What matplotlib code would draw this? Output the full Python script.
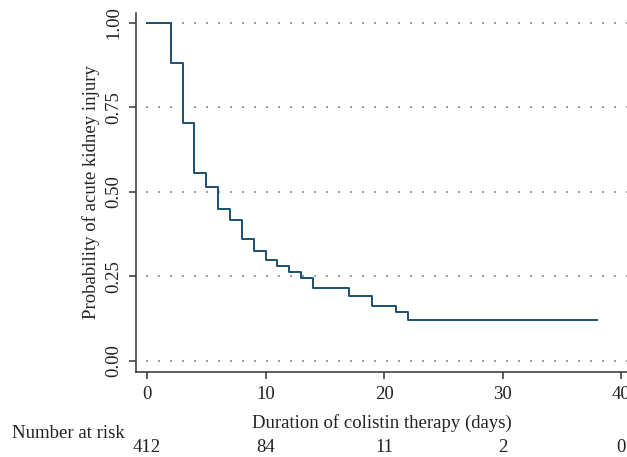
import matplotlib
matplotlib.use("Agg")
import matplotlib.pyplot as plt
import matplotlib.transforms as mtransforms

plt.rcParams['font.family'] = ['Liberation Serif', 'DejaVu Serif']

# Kaplan-Meier step data (days, probability)
days = [0, 2, 3, 4, 5, 6, 7, 8, 9, 10, 11, 12, 13, 14, 17, 19, 21, 22, 38]
prob = [1.00, 0.882, 0.705, 0.556, 0.513, 0.448, 0.418, 0.361, 0.326, 0.299,
        0.281, 0.264, 0.246, 0.217, 0.192, 0.163, 0.146, 0.122, 0.122]

x_ticks = [0, 10, 20, 30, 40]
y_ticks = [0.00, 0.25, 0.50, 0.75, 1.00]
y_tick_labels = ["0.00", "0.25", "0.50", "0.75", "1.00"]
risk_times = [0, 10, 20, 30, 40]
risk_counts = ["412", "84", "11", "2", "0"]

FS = 13.5
TXT = '#222222'

fig = plt.figure(figsize=(6.27, 4.57), dpi=100)
ax = fig.add_axes([0.217, 0.186, 0.783, 0.786])

ax.step(days, prob, where='post', color='#1b4f72', lw=1.4)

ax.set_xlim(-0.93, 40.5)
ax.set_ylim(-0.033, 1.03)
ax.set_xticks(x_ticks)
ax.set_yticks(y_ticks)
ax.set_yticklabels(y_tick_labels, rotation=90, va='center')

for y in y_ticks:
    ax.axhline(y, xmin=0.02, color='#8a8a8a', lw=1.2, ls=(0, (1.2, 6.0)), zorder=0)

for s in ['top', 'right']:
    ax.spines[s].set_visible(False)
for s in ['left', 'bottom']:
    ax.spines[s].set_color('#333333')
    ax.spines[s].set_linewidth(1.1)
ax.tick_params(axis='both', direction='out', length=5, width=1.1, color='#333333',
               labelsize=FS, labelcolor=TXT)
ax.tick_params(axis='x', pad=5)
ax.tick_params(axis='y', pad=5)

ax.set_xlabel("Duration of colistin therapy (days)", fontsize=FS, color=TXT, labelpad=8)
ax.set_ylabel("Probability of acute kidney injury", fontsize=FS, color=TXT, labelpad=4)

pix = mtransforms.blended_transform_factory(ax.transData, mtransforms.IdentityTransform())
for t, c in zip(risk_times, risk_counts):
    ax.text(t, 457 - 448, c, transform=pix,
            ha='center', va='center', fontsize=FS, color=TXT, clip_on=False)
fig.text(12 / 627, 1 - 434 / 457, "Number at risk", ha='left', va='center',
         fontsize=FS, color=TXT)

fig.savefig("out.png", dpi=100)
